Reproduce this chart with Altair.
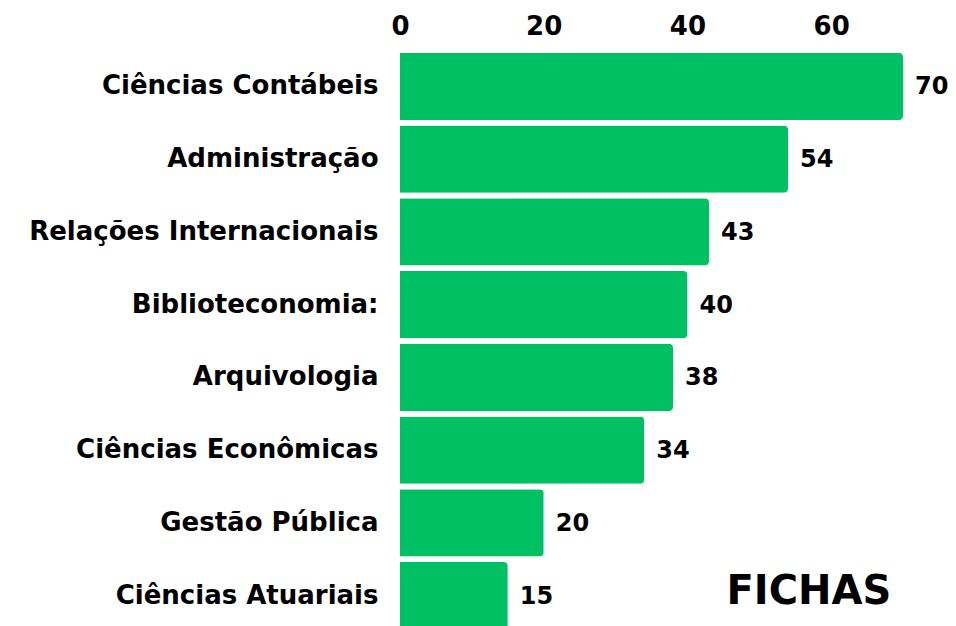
import altair as alt
import pandas as pd

cursos = ["Ciências Contábeis", "Administração", "Relações Internacionais",
          "Biblioteconomia:", "Arquivologia", "Ciências Econômicas",
          "Gestão Pública", "Ciências Atuariais"]
fichas = [70, 54, 43, 40, 38, 34, 20, 15]
ticks = [0, 20, 40, 60]

df = pd.DataFrame({"curso": cursos, "fichas": fichas})

FONT = "DejaVu Sans"
GREEN = "#00C064"

x = alt.X("fichas:Q",
          scale=alt.Scale(domain=[0, 70], nice=False),
          axis=alt.Axis(orient="top", values=ticks, grid=False, domain=False,
                        ticks=False, labelFont=FONT, labelFontSize=26,
                        labelFontWeight="bold", labelColor="#000",
                        labelBaseline="alphabetic",
                        labelPadding=16, labelFlush=False,
                        title="FICHAS", titleFont=FONT, titleFontSize=40,
                        titleFontWeight="bold", titleColor="#000",
                        titleAnchor="start", titleAlign="left",
                        titleX=326, titleY=553, titleBaseline="alphabetic"))
y = alt.Y("curso:N", sort=cursos,
          scale=alt.Scale(paddingInner=0.075, paddingOuter=0.0375),
          axis=alt.Axis(title=None, grid=False, domain=False, ticks=False,
                        labelFont=FONT, labelFontSize=26, labelFontWeight="bold",
                        labelColor="#000", labelPadding=22, labelLimit=400))

bars = alt.Chart(df).mark_bar(color=GREEN, cornerRadiusTopRight=4,
                              cornerRadiusBottomRight=4).encode(x=x, y=y)
labels = alt.Chart(df).mark_text(align="left", baseline="middle", dx=12, dy=1,
                                 font=FONT, fontSize=24, fontWeight="bold",
                                 color="#000").encode(x=x, y=y, text="fichas:Q")

chart = (bars + labels).properties(
    width=503, height=582,
    background="white",
    autosize=alt.AutoSizeParams(type="none"),
    padding={"left": 392, "top": 42, "right": 45, "bottom": 5},
).configure_view(
    strokeWidth=0, stroke="transparent"
).configure_axis(
    grid=False, domain=False, ticks=False
)

chart.save("out.html", embed_options={"renderer": "svg", "actions": False})
